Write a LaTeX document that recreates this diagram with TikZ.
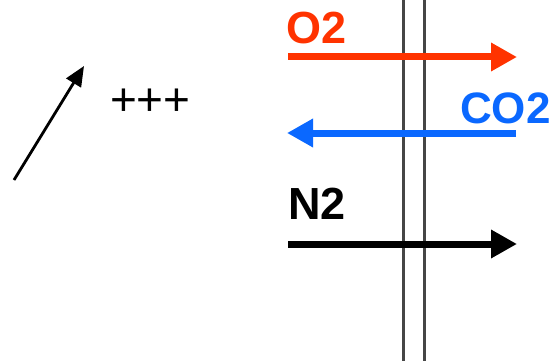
\documentclass[tikz,border=0pt]{standalone}
\usepackage{fontspec}
\setmainfont{Liberation Sans}
\usetikzlibrary{arrows.meta}
\definecolor{oxred}{RGB}{255,51,0}
\definecolor{coblue}{RGB}{10,104,255}
\definecolor{memgray}{RGB}{70,70,70}
\tikzset{
  gasarrow/.style={line width=7pt, -{Triangle[length=26pt,width=27pt]}},
  gaslabel/.style={anchor=base west, inner sep=0pt, outer sep=0pt, font=\fontsize{45}{45}\selectfont\bfseries},
  membrane/.style={draw=memgray, line width=2.2pt},
  plain/.style={anchor=base west, inner sep=0pt, outer sep=0pt, font=\fontsize{46}{46}\selectfont}
}
\begin{document}
\begin{tikzpicture}[x=1pt,y=-1pt]
\useasboundingbox (0,0) rectangle (552,361);
% membrane
\coordinate (m1t) at (403.5,0); \coordinate (m1b) at (403.5,361);
\coordinate (m2t) at (424.5,0); \coordinate (m2b) at (424.5,361);
\draw[membrane] (m1t) -- (m1b);
\draw[membrane] (m2t) -- (m2b);
% O2
\coordinate (o2s) at (288,57); \coordinate (o2e) at (517,57);
\draw[gasarrow, draw=oxred, fill=oxred] (o2s) -- (o2e);
\node[gaslabel, text=oxred] (o2) at (286,44) {O2};
% CO2
\coordinate (co2s) at (516,133); \coordinate (co2e) at (287,133);
\draw[gasarrow, draw=coblue, fill=coblue] (co2s) -- (co2e);
\node[gaslabel, text=coblue, font=\fontsize{44}{44}\selectfont\bfseries] (co2) at (460,124) {CO2};
% N2
\coordinate (n2s) at (288,244); \coordinate (n2e) at (517,244);
\draw[gasarrow, draw=black, fill=black] (n2s) -- (n2e);
\node[gaslabel, text=black] (n2) at (288,219) {N2};
% left arrow and +++
\coordinate (la) at (14,180); \coordinate (lb) at (84,66);
\draw[line width=2.8pt, -{Triangle[length=20pt,width=17pt]}] (la) -- (lb);
\node[plain] (plus) at (110,115) {+++};
\end{tikzpicture}
\end{document}
